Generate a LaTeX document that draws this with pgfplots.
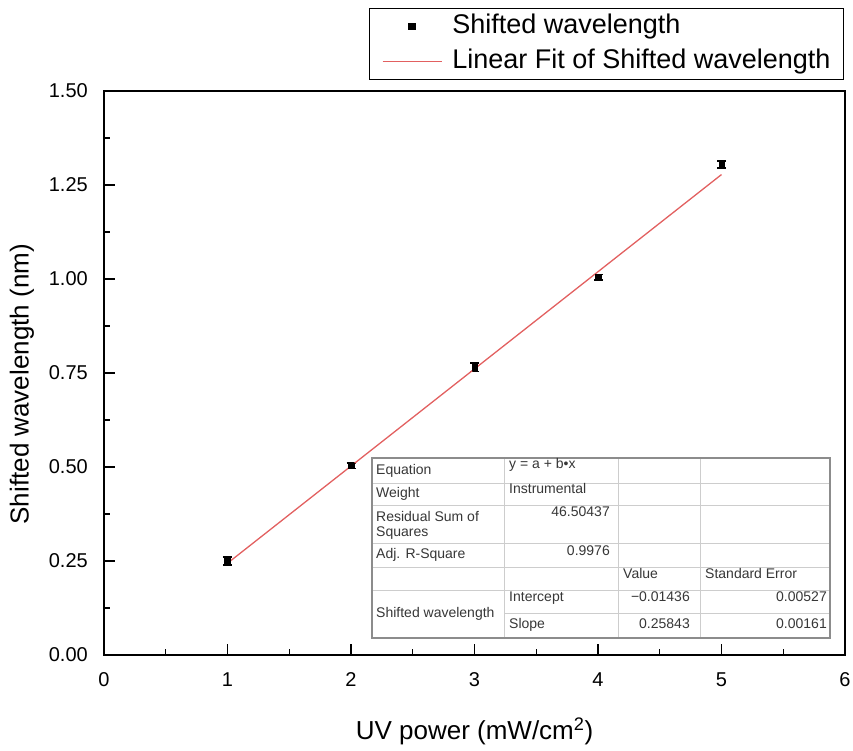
\documentclass[border=0pt]{standalone}
\usepackage{pgfplots}
\pgfplotsset{compat=1.18}
\usepackage{fontspec}
\setmainfont{Liberation Sans}
\definecolor{fitred}{RGB}{226,96,96}
\definecolor{tabgray}{RGB}{140,140,140}
\definecolor{tabline}{RGB}{205,205,205}
\definecolor{tabtext}{RGB}{55,55,55}

\begin{document}
\begin{tikzpicture}
\useasboundingbox (-104pt,-95pt) rectangle (749pt,655pt);
\begin{axis}[
  scale only axis, width=741pt, height=564pt,
  xmin=0, xmax=6, ymin=0, ymax=1.5,
  xtick={0,1,2,3,4,5,6},
  ytick={0,0.25,0.5,0.75,1,1.25,1.5},
  minor x tick num=1, minor y tick num=1,
  tick align=inside, xtick pos=bottom, ytick pos=left,
  major tick length=11pt, minor tick length=6pt,
  axis line style={line width=1.6pt},
  every tick/.style={line width=1.3pt, black},
  /pgf/number format/assume math mode=true,
  y tick label style={/pgf/number format/fixed, /pgf/number format/fixed zerofill, /pgf/number format/precision=2},
  tick label style={font=\fontsize{20}{24}\selectfont, inner sep=0pt},
  xticklabel style={anchor=center, yshift=-25pt},
  yticklabel style={anchor=east, xshift=-16pt},
  xlabel={UV power (mW/cm\textsuperscript{2})},
  ylabel={Shifted wavelength (nm)},
  label style={font=\fontsize{26}{30}\selectfont},
  x label style={at={(axis description cs:0.5,-0.1507)}, anchor=base},
  y label style={at={(axis description cs:-0.1107,0.48)}, anchor=center},
  legend style={at={(axis description cs:0.9987,1.0195)}, anchor=south east,
    draw=black, line width=1pt, font=\fontsize{27}{30}\selectfont,
    inner xsep=13pt, inner ysep=5.5pt, row sep=10pt, column sep=10pt,
    nodes={inner sep=0pt, text height=19.5pt, text depth=5.5pt}},
  legend cell align=left,
]
\addplot[only marks, mark=square*, mark size=2.8pt, black,
  legend image code/.code={\path (0pt,0pt) (59pt,0pt); \fill[black] (26pt,-3.2pt) rectangle (33pt,3.2pt);},
  error bars/.cd, y dir=both, y explicit,
  error bar style={line width=1.2pt, black},
  error mark options={rotate=90, mark size=4.5pt, line width=1.6pt, black}]
  coordinates {
  (1,0.250) +- (0,0.010)
  (2,0.503) +- (0,0.007)
  (3,0.765) +- (0,0.011)
  (4,1.005) +- (0,0.007)
  (5,1.305) +- (0,0.009)
};
\addlegendentry{Shifted wavelength}
\addplot[fitred, line width=1.3pt, no marks,
  legend image code/.code={\draw[fitred, line width=1.3pt] (0pt,0pt) -- (59pt,0pt);}]
  coordinates {(1,0.24407) (5,1.27779)};
\addlegendentry{Linear Fit of Shifted wavelength}
\end{axis}
% results table of the fit
\fill[white] (268pt,17pt) rectangle (726pt,197pt);
\begin{scope}[tabline, line width=0.8pt]
  \draw (400pt,17pt) -- (400pt,197pt);
  \draw (514pt,17pt) -- (514pt,197pt);
  \draw (596pt,17pt) -- (596pt,197pt);
  \foreach \yy in {172,150,112,88,65} {\draw (268pt,\yy pt) -- (726pt,\yy pt);}
  \draw (400pt,42pt) -- (726pt,42pt);
\end{scope}
\draw[tabgray, line width=1.3pt] (268pt,17pt) rectangle (726pt,197pt);
\begin{scope}[every node/.style={font=\fontsize{14}{16}\selectfont, text=tabtext, inner sep=0pt, text height=10pt, text depth=3pt}]
  \node[anchor=west] at (272pt,184pt) {Equation};
  \node[anchor=west] at (272pt,161pt) {Weight};
  \node[anchor=west] at (272pt,137pt) {Residual Sum of};
  \node[anchor=west] at (272pt,122pt) {Squares};
  \node[anchor=west] at (272pt,100pt) {Adj. R-Square};
  \node[anchor=west] at (272pt,41pt) {Shifted wavelength};
  \node[anchor=west] at (405pt,190pt) {y = a + b•x};
  \node[anchor=west] at (405pt,165pt) {Instrumental};
  \node[anchor=east] at (506pt,142pt) {46.50437};
  \node[anchor=east] at (506pt,103pt) {0.9976};
  \node[anchor=west] at (405pt,57pt) {Intercept};
  \node[anchor=west] at (405pt,30pt) {Slope};
  \node[anchor=west] at (519pt,80pt) {Value};
  \node[anchor=east] at (586pt,57pt) {−0.01436};
  \node[anchor=east] at (586pt,30pt) {0.25843};
  \node[anchor=west] at (601pt,80pt) {Standard Error};
  \node[anchor=east] at (723pt,57pt) {0.00527};
  \node[anchor=east] at (723pt,30pt) {0.00161};
\end{scope}
\end{tikzpicture}
\end{document}
